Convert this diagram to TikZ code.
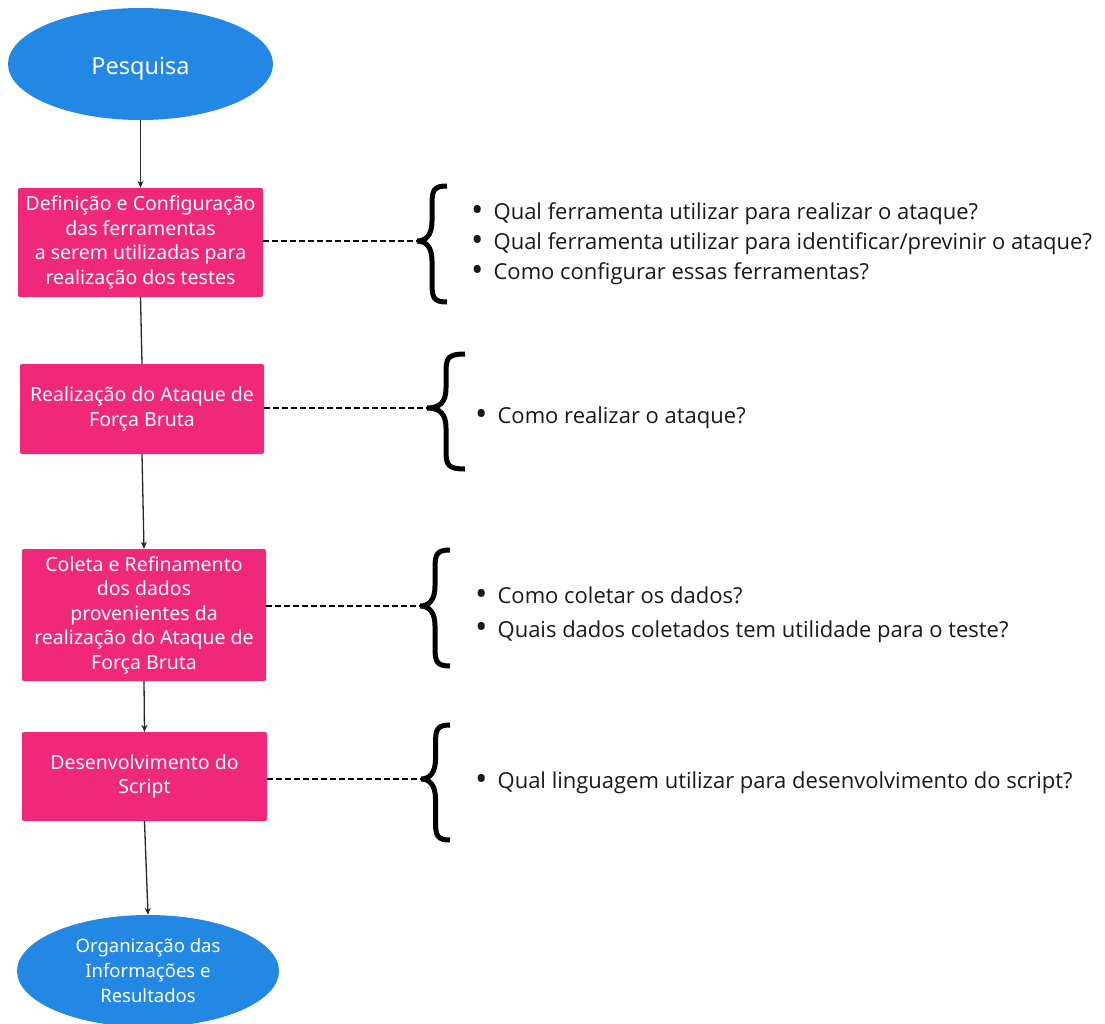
\documentclass[tikz,border=0pt]{standalone}
\usepackage{fontspec}
\setmainfont{Noto Sans}
\newfontfamily\qfont{Open Sans}
\usetikzlibrary{arrows.meta,shapes.geometric}
\definecolor{pinkbox}{HTML}{EF2879}
\definecolor{blueell}{HTML}{2388E3}
\tikzset{
  stepbox/.style={draw=none,fill=pinkbox,rounded corners=2pt,text=white,align=center,
     font=\fontsize{19.5}{24.5}\selectfont,inner sep=0pt},
  endell/.style={ellipse,fill=blueell,text=white,align=center,inner sep=0pt},
  flow/.style={line width=1.3pt,draw=black!85},
  flowarrow/.style={flow,-{Stealth[length=7pt,width=6pt]}},
  dashlink/.style={line width=1.6pt,dash pattern=on 6pt off 3pt},
  qtext/.style={anchor=west,align=left,inner sep=0pt,text=black!90},
  bracepath/.style={line width=5pt,line cap=butt}
}
\newcommand\qb{\raisebox{-1.5pt}{\scalebox{1.5}{\textbullet}}\hspace{10pt}}
\newcommand\mybrace[5]{% xl xr ytop ymid ybot
  \pgfmathsetmacro\xm{(#1+#2)/2}
  \draw[bracepath] (#2,#3) .. controls (\xm+2,#3) and (\xm,#3+4) .. (\xm,#3+18)
     -- (\xm,#4-20) .. controls (\xm,#4-6) and (\xm-6,#4) .. (#1,#4)
     .. controls (\xm-6,#4) and (\xm,#4+6) .. (\xm,#4+20)
     -- (\xm,#5-18) .. controls (\xm,#5-4) and (\xm+2,#5) .. (#2,#5);
}
\begin{document}
\begin{tikzpicture}[x=1pt,y=-1pt]
\useasboundingbox (0,0) rectangle (1105,1023);
% nodes
\node[endell,minimum width=265pt,minimum height=112pt,font=\fontsize{23.5}{26}\selectfont] (pesq) at (140.5,64) {\raisebox{-10pt}[0pt][0pt]{Pesquisa}};
\node[stepbox,minimum width=245pt,minimum height=109pt] (b1) at (140.5,242.5) {Definição e Configuração\\das ferramentas\\a serem utilizadas para\\realização dos testes};
\node[stepbox,minimum width=244pt,minimum height=90pt] (b2) at (142,409) {Realização do Ataque de\\Força Bruta};
\node[stepbox,minimum width=244pt,minimum height=132pt] (b3) at (144,615) {Coleta e Refinamento\\dos dados\\provenientes da\\realização do Ataque de\\Força Bruta};
\node[stepbox,minimum width=245pt,minimum height=89pt] (b4) at (144.5,776.5) {Desenvolvimento do\\Script};
\node[endell,minimum width=262pt,minimum height=112pt,font=\fontsize{18.5}{25}\selectfont] (org) at (148,971) {Organização das\\Informações e\\Resultados};
% flow
\draw[flowarrow] (pesq.south) -- (b1.north);
\draw[flow] (b1.south) -- (b2.north);
\draw[flowarrow] (b2.south) -- (b3.north);
\draw[flowarrow] (b3.south) -- (b4.north);
\draw[flowarrow] (b4.south) -- (org.north);
% braces
\mybrace{417}{447}{186}{241}{302}
\mybrace{427}{465}{354}{408}{469}
\mybrace{420}{450}{550}{606}{666}
\mybrace{421}{450}{725}{779}{840}
\coordinate (t1) at (417,241);
\coordinate (t2) at (427,408);
\coordinate (t3) at (420,606);
\coordinate (t4) at (421,779);
\draw[dashlink] (b1.east |- t1) -- (t1);
\draw[dashlink] (b2.east |- t2) -- (t2);
\draw[dashlink] (b3.east |- t3) -- (t3);
\draw[dashlink] (b4.east |- t4) -- (t4);
% questions
\node[qtext,font=\qfont\fontsize{22}{30}\selectfont] (q1) at (471,244) {\qb Qual ferramenta utilizar para realizar o ataque?\\\qb Qual ferramenta utilizar para identificar/previnir o ataque?\\\qb Como configurar essas ferramentas?};
\node[qtext,font=\qfont\fontsize{22}{30}\selectfont] (q2) at (475,418) {\qb Como realizar o ataque?};
\node[qtext,font=\qfont\fontsize{22}{33.5}\selectfont] (q3) at (475,615) {\qb Como coletar os dados?\\\qb Quais dados coletados tem utilidade para o teste?};
\node[qtext,font=\qfont\fontsize{22}{30}\selectfont] (q4) at (475,783) {\qb Qual linguagem utilizar para desenvolvimento do script?};
\end{tikzpicture}
\end{document}
